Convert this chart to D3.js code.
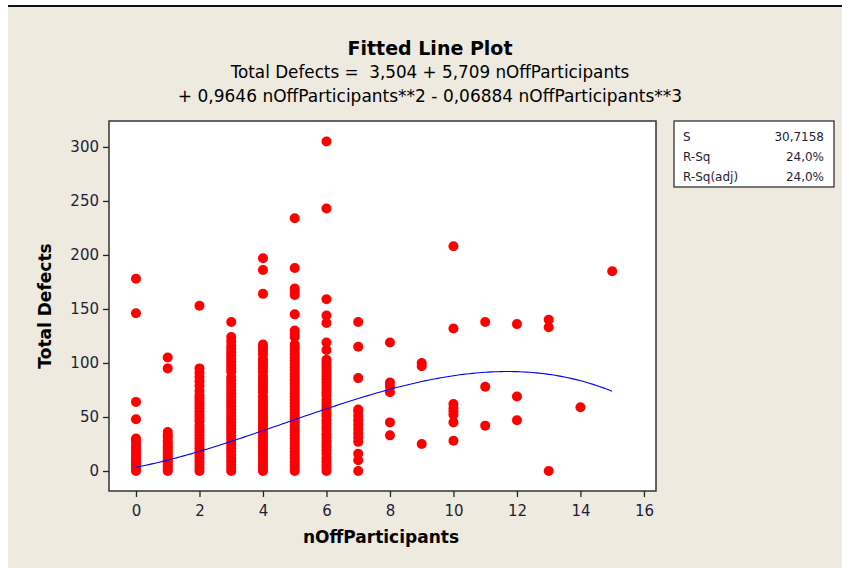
<!doctype html>
<html>
<head>
<meta charset="utf-8">
<script src="https://d3js.org/d3.v7.min.js"></script>
<style>
  body { margin: 0; background: #fff; }
  text { font-family: "DejaVu Sans", Verdana, sans-serif; }
</style>
</head>
<body>
<svg width="842" height="568"></svg>
<script>
// data
var nOff = [0, 1, 2, 3, 4, 5, 6, 7, 8, 9, 10, 11, 12, 13, 14, 15];
var totalDefects = [
  [0, 2, 4, 6, 8, 10, 12, 14, 17, 19, 22, 25, 28, 30, 48, 64, 146, 178],
  [0, 2, 4, 6, 8, 10, 12, 14, 16, 18, 20, 22, 24, 26, 28, 31, 33, 36, 95, 105],
  [0, 3, 6, 9, 12, 15, 18, 21, 24, 27, 30, 33, 36, 39, 42, 46, 49, 52, 55, 58, 61, 64, 67, 70, 74, 79, 83, 87, 91, 95, 153],
  [0, 3, 6, 9, 12, 15, 18, 21, 24, 27, 30, 33, 36, 39, 42, 45, 48, 51, 54, 57, 60, 63, 66, 69, 72, 75, 78, 81, 84, 87, 92, 95, 98, 101, 104, 107, 110, 113, 116, 120, 124, 138],
  [0, 3, 6, 9, 12, 15, 18, 21, 24, 27, 30, 33, 36, 39, 42, 45, 48, 51, 54, 57, 60, 63, 66, 69, 73, 76, 79, 82, 85, 88, 92, 95, 98, 101, 104, 108, 111, 114, 117, 164, 186, 197],
  [0, 3, 6, 9, 12, 15, 18, 21, 24, 27, 30, 33, 36, 39, 42, 45, 48, 51, 54, 57, 60, 63, 66, 69, 72, 75, 78, 81, 84, 87, 90, 93, 96, 99, 102, 105, 108, 111, 114, 117, 124, 127, 130, 145, 163, 166, 169, 188, 234],
  [0, 3, 6, 9, 12, 16, 19, 22, 25, 28, 31, 34, 38, 41, 44, 47, 51, 54, 57, 60, 63, 66, 70, 73, 76, 79, 82, 85, 88, 91, 94, 97, 100, 103, 112, 119, 137, 144, 159, 243, 305],
  [0, 10, 16, 27, 31, 35, 39, 43, 47, 51, 55, 57, 86, 115, 138],
  [33, 45, 73, 78, 82, 119],
  [25, 97, 100],
  [28, 45, 52, 55, 58, 62, 132, 208],
  [42, 78, 138],
  [47, 69, 136],
  [0, 133, 140],
  [59],
  [185]
];
// cubic fit: b0 + b1 x + b2 x^2 + b3 x^3
var coef = [3.504, 5.709, 0.9646, -0.06884];
var xTicks = [0, 2, 4, 6, 8, 10, 12, 14, 16];
var yTicks = [0, 50, 100, 150, 200, 250, 300];
var statLabels = ["S", "R-Sq", "R-Sq(adj)"];
var statValues = ["30,7158", "24,0%", "24,0%"];

var svg = d3.select("svg");

// window frame
svg.append("rect").attr("x", 8).attr("y", 6).attr("width", 834).attr("height", 562).attr("fill", "#eeeae0");
svg.append("line").attr("x1", 8).attr("x2", 842).attr("y1", 6).attr("y2", 6)
   .attr("stroke", "#111").attr("stroke-width", 2);

var plotL = 109, plotT = 121, plotR = 656, plotB = 491;

var x = d3.scaleLinear().domain([-0.85, 16.38]).range([plotL, plotR]);
var y = d3.scaleLinear().domain([-18.5, 324]).range([plotB, plotT]);

svg.append("rect")
   .attr("x", plotL).attr("y", plotT)
   .attr("width", plotR - plotL).attr("height", plotB - plotT)
   .attr("fill", "#fff").attr("stroke", "#333").attr("stroke-width", 1.5);

// titles
svg.append("text").attr("x", 430).attr("y", 55).attr("text-anchor", "middle")
   .attr("font-size", 19).attr("font-weight", "bold").text("Fitted Line Plot");
svg.append("text").attr("x", 430).attr("y", 78).attr("text-anchor", "middle")
   .attr("font-size", 16.8).style("white-space", "pre")
   .text("Total Defects =  3,504 + 5,709 nOffParticipants");
svg.append("text").attr("x", 430).attr("y", 102).attr("text-anchor", "middle")
   .attr("font-size", 17).style("white-space", "pre")
   .text("+ 0,9646 nOffParticipants**2 - 0,06884 nOffParticipants**3");

// axes
var xAxis = svg.append("g")
   .attr("transform", "translate(0," + plotB + ")")
   .call(d3.axisBottom(x).tickValues(xTicks).tickSize(6).tickSizeOuter(0));
var yAxis = svg.append("g")
   .attr("transform", "translate(" + plotL + ",0)")
   .call(d3.axisLeft(y).tickValues(yTicks).tickSize(6).tickSizeOuter(0));

[xAxis, yAxis].forEach(function(a) {
  a.select(".domain").remove();
  a.selectAll("line").attr("stroke", "#222").attr("stroke-width", 1.3);
  a.selectAll("text").attr("font-family", "DejaVu Sans").attr("font-size", 15).attr("fill", "#1e1e38");
});
xAxis.selectAll("text").attr("dy", "1.05em");
yAxis.selectAll("text").attr("x", -10);

svg.append("text").attr("x", 381).attr("y", 543).attr("text-anchor", "middle")
   .attr("font-size", 17).attr("font-weight", "bold").text("nOffParticipants");
svg.append("text").attr("transform", "translate(51,306) rotate(-90)").attr("text-anchor", "middle")
   .attr("font-size", 17).attr("font-weight", "bold").text("Total Defects");

// points
var pts = [];
nOff.forEach(function(n, i) {
  totalDefects[i].forEach(function(v) { pts.push({ n: n, v: v }); });
});
svg.append("g").selectAll("circle")
   .data(pts)
   .enter().append("circle")
   .attr("cx", function(d) { return x(d.n); })
   .attr("cy", function(d) { return y(d.v); })
   .attr("r", 5)
   .attr("fill", "#ff0000");

// fitted curve
var fit = function(t) { return coef[0] + coef[1] * t + coef[2] * t * t + coef[3] * t * t * t; };
var curveX = d3.range(0, 15.001, 0.1);
svg.append("path")
   .datum(curveX)
   .attr("fill", "none").attr("stroke", "#0000ff").attr("stroke-width", 1.1)
   .attr("d", d3.line().x(function(t) { return x(t); }).y(function(t) { return y(fit(t)); }));

// stats box
var box = svg.append("g").attr("transform", "translate(674,121)");
box.append("rect").attr("width", 160).attr("height", 66)
   .attr("fill", "#fff").attr("stroke", "#333").attr("stroke-width", 1.3);
statLabels.forEach(function(s, i) {
  box.append("text").attr("x", 9).attr("y", 20 + i * 20).attr("font-size", 12).attr("fill", "#1e1e38").text(s);
  box.append("text").attr("x", 150).attr("y", 20 + i * 20).attr("text-anchor", "end")
     .attr("font-size", 12).attr("fill", "#1e1e38").text(statValues[i]);
});
</script>
</body>
</html>
